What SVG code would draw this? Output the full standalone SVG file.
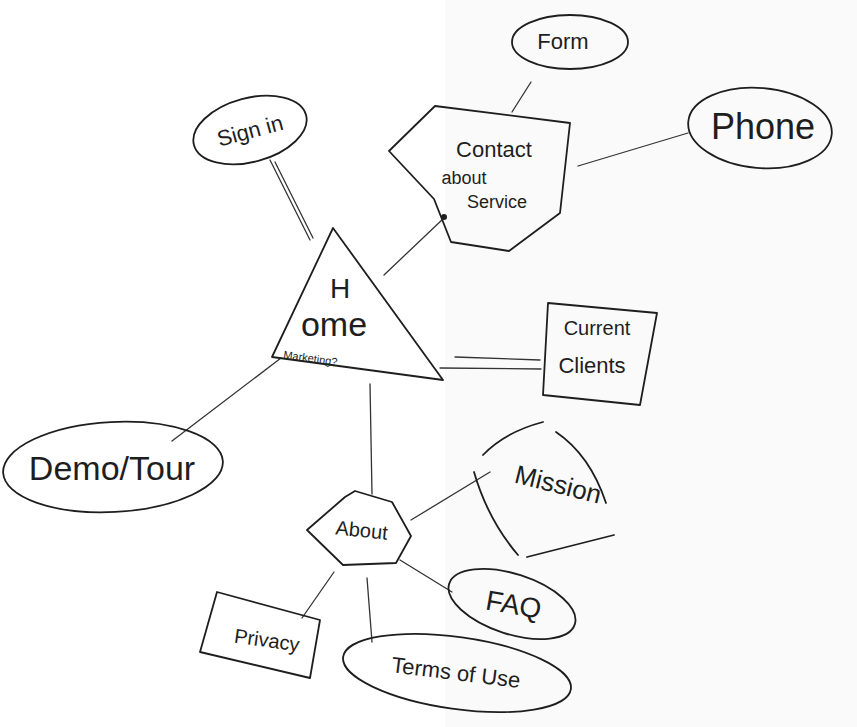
<svg xmlns="http://www.w3.org/2000/svg" width="857" height="727" viewBox="0 0 857 727">
<style>
.s{fill:none;stroke:#1e1e1e;stroke-width:1.8;stroke-linecap:round;stroke-linejoin:round}
.n{fill:none;stroke:#1e1e1e;stroke-width:1.8;stroke-linejoin:round}
.t{font-family:"Liberation Sans","DejaVu Sans",sans-serif;fill:#1e1e1e;text-anchor:middle}
.c{fill:none;stroke:#333;stroke-width:1.3;stroke-linecap:round}
</style>
<rect width="857" height="727" fill="#ffffff"/>
<rect x="445" y="0" width="412" height="727" fill="#fafafa"/>
<g id="connectors">
<path class="c" d="M531,82 L512,112"/>
<path class="c" d="M578,166 L688,133"/>
<path class="c" d="M270,160 L310,240 M275,162 L313,238"/>
<path class="c" d="M384,275 L444,218"/>
<path class="c" d="M455,357 L540,360 M440,368 L541,369"/>
<path class="c" d="M281,358 L172,441"/>
<path class="c" d="M370,384 L372,494"/>
<path class="c" d="M411,520 L490,472"/>
<path class="c" d="M400,560 L452,592"/>
<path class="c" d="M334,572 L302,618"/>
<path class="c" d="M367,578 L372,642"/>
</g>
<g id="form">
<ellipse class="n" cx="570" cy="42" rx="58" ry="27"/>
<text class="t" x="563" y="49" font-size="22">Form</text>
</g>
<g id="phone">
<ellipse class="n" cx="760" cy="128" rx="72" ry="40" transform="rotate(5 760 128)"/>
<text class="t" x="763" y="139" font-size="36">Phone</text>
</g>
<g id="signin">
<ellipse class="n" cx="250" cy="130" rx="58" ry="32" transform="rotate(-15 250 130)"/>
<text class="t" x="252" y="138" font-size="22" transform="rotate(-15 252 138)">Sign in</text>
</g>
<g id="contact">
<polygon class="n" points="435,106 570,123 560,213 509,251 451,242 434,199 389,151"/>
<circle cx="444" cy="217" r="3" fill="#1e1e1e"/>
<text class="t" x="494" y="157" font-size="22">Contact</text>
<text class="t" x="464" y="184" font-size="18">about</text>
<text class="t" x="497" y="208" font-size="18">Service</text>
</g>
<g id="home">
<polygon class="n" points="333,228 443,380 272,357"/>
<text class="t" x="340" y="298" font-size="28">H</text>
<text class="t" x="334" y="336" font-size="34">ome</text>
<text class="t" x="310" y="362" font-size="11" transform="rotate(8 310 362)">Marketing?</text>
</g>
<g id="clients">
<polygon class="n" points="548,303 657,313 640,405 543,395"/>
<text class="t" x="597" y="335" font-size="20">Current</text>
<text class="t" x="592" y="373" font-size="22">Clients</text>
</g>
<g id="demo">
<ellipse class="n" cx="113" cy="467" rx="110" ry="45" transform="rotate(-3 113 467)"/>
<text class="t" x="112" y="480" font-size="34">Demo/Tour</text>
</g>
<g id="about">
<polygon class="n" points="355,491 392,502 411,536 396,563 343,565 307,530 345,497"/>
<text class="t" x="361" y="537" font-size="20" transform="rotate(6 361 537)">About</text>
</g>
<g id="mission">
<path class="s" d="M483,455 Q505,432 543,422 M556,432 Q590,455 606,503 M474,472 Q488,520 518,555 M527,557 L614,535"/>
<text class="t" x="556" y="493" font-size="26" transform="rotate(14 556 493)">Mission</text>
</g>
<g id="faq">
<ellipse class="n" cx="512" cy="604" rx="66" ry="30" transform="rotate(18 512 604)"/>
<text class="t" x="512" y="614" font-size="28" transform="rotate(10 512 614)">FAQ</text>
</g>
<g id="privacy">
<polygon class="n" points="217,592 320,620 310,678 200,652"/>
<text class="t" x="266" y="647" font-size="20" transform="rotate(8 266 647)">Privacy</text>
</g>
<g id="terms">
<ellipse class="n" cx="457" cy="673" rx="115" ry="36" transform="rotate(8 457 673)"/>
<text class="t" x="455" y="680" font-size="22" transform="rotate(7 455 680)">Terms of Use</text>
</g>
</svg>
